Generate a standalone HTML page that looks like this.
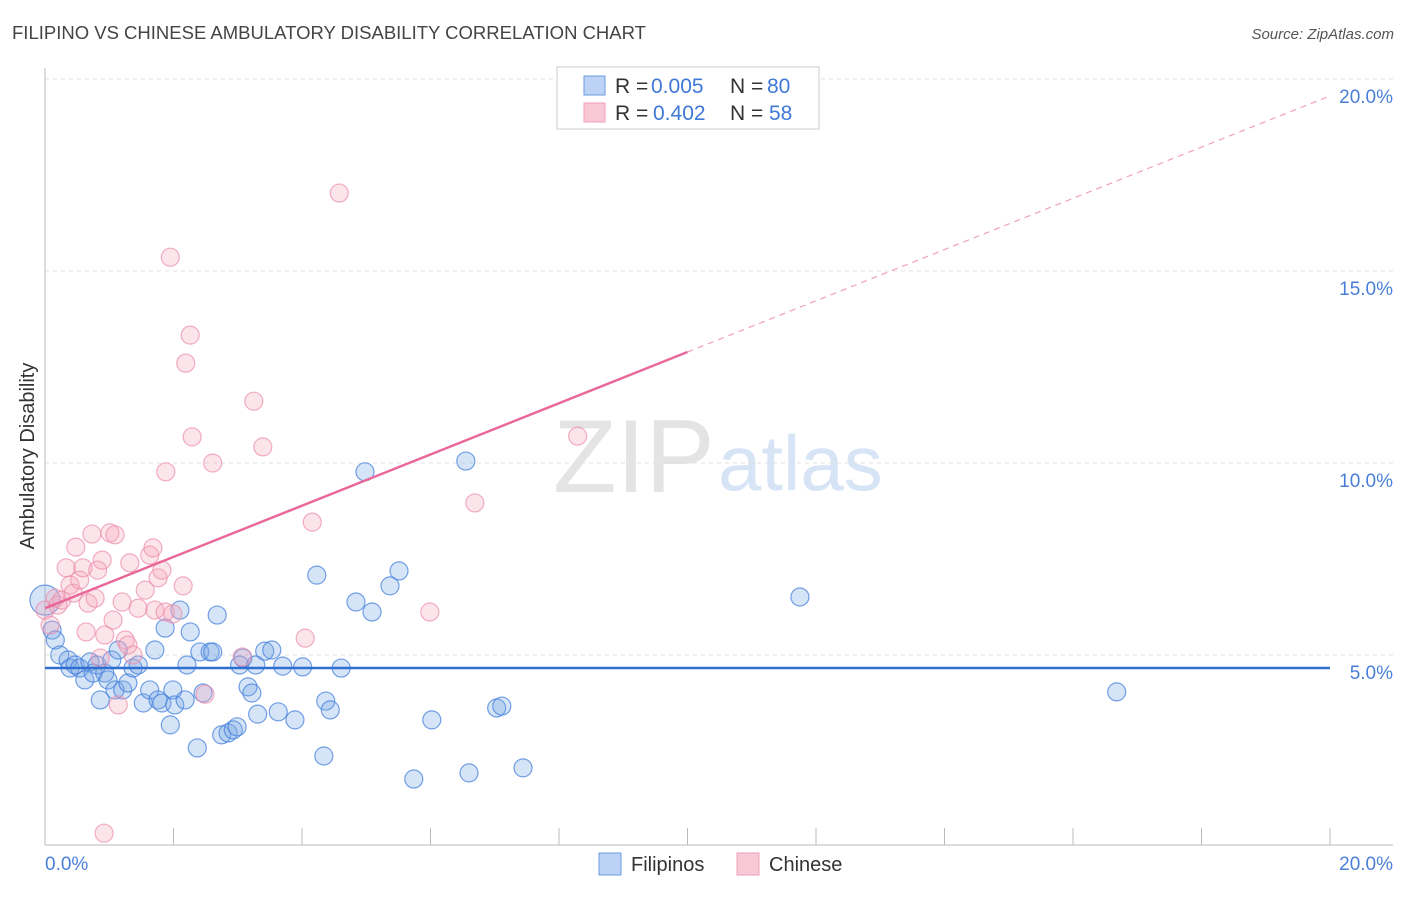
<!DOCTYPE html>
<html><head><meta charset="utf-8"><style>
body{margin:0;background:#fff;font-family:"Liberation Sans",sans-serif;}
svg text{font-family:"Liberation Sans",sans-serif;}
</style></head><body>
<svg id="chart" width="1406" height="892">
<text x="12" y="39" font-size="18.5" fill="#444">FILIPINO VS CHINESE AMBULATORY DISABILITY CORRELATION CHART</text>
<text x="1394" y="39" font-size="15" fill="#555" text-anchor="end" font-style="italic">Source: ZipAtlas.com</text>
<text x="553" y="492" font-size="104" fill="#e4e4e4" font-family="Liberation Serif">ZIP</text>
<text x="718" y="490" font-size="78" fill="#d6e4f6">atlas</text>
<g id="grid"></g>
<g id="marks"></g>
<text transform="translate(34,456) rotate(-90)" font-size="20" fill="#333" text-anchor="middle">Ambulatory Disability</text>
<text x="45" y="870" font-size="19" fill="#4a7fd8">0.0%</text>
<text x="1393" y="870" font-size="19" fill="#4a7fd8" text-anchor="end">20.0%</text>
<g>
<rect x="557" y="67" width="262" height="62" fill="#fff" stroke="#ccc"/>
<rect x="584" y="76" width="21" height="19" fill="#bcd3f5" stroke="#6b9be0"/>
<rect x="584" y="103" width="21" height="19" fill="#f8c8d6" stroke="#f0a0b8"/>
<text x="615" y="93" font-size="21" fill="#333">R =</text>
<text x="651" y="93" font-size="21" fill="#3f78d6">0.005</text>
<text x="730" y="93" font-size="21" fill="#333">N =</text>
<text x="767" y="93" font-size="21" fill="#3f78d6">80</text>
<text x="615" y="120" font-size="21" fill="#333">R =</text>
<text x="653" y="120" font-size="21" fill="#3f78d6">0.402</text>
<text x="730" y="120" font-size="21" fill="#333">N =</text>
<text x="769" y="120" font-size="21" fill="#3f78d6">58</text>
</g>
<g>
<rect x="599" y="853" width="22" height="22" fill="#bcd3f5" stroke="#6b9be0"/>
<text x="631" y="871" font-size="20" fill="#333">Filipinos</text>
<rect x="737" y="853" width="22" height="22" fill="#f8c8d6" stroke="#f0a0b8"/>
<text x="769" y="871" font-size="20" fill="#333">Chinese</text>
</g>
</svg>
<script>
const yTicks=[5,10,15,20];
const xTickCount=10;
const blueX=[0,0.11,0.16,0.23,0.36,0.39,0.47,0.54,0.62,0.70,0.75,0.81,0.86,0.93,0.98,1.04,1.09,1.14,1.21,1.29,1.37,1.45,1.53,1.63,1.71,1.76,1.82,1.87,1.95,1.99,2.02,2.10,2.18,2.21,2.26,2.37,2.41,2.46,2.57,2.61,2.68,2.75,2.85,2.93,2.99,3.03,3.08,3.16,3.22,3.28,3.31,3.42,3.53,3.63,3.70,3.89,4.01,4.23,4.34,4.37,4.44,4.61,4.84,4.98,5.09,5.37,5.51,5.74,6.02,6.55,6.60,7.03,7.11,7.44,11.75,16.68];
const blueY=[6.43,5.65,5.39,5.0,4.87,4.66,4.74,4.66,4.35,4.82,4.53,4.74,3.83,4.53,4.35,4.87,4.09,5.13,4.09,4.27,4.66,4.74,3.75,4.09,5.13,3.83,3.75,5.70,3.18,4.09,3.70,6.17,3.83,4.74,5.60,2.58,5.08,4.01,5.08,5.08,6.04,2.92,2.97,3.05,3.13,4.74,4.92,4.17,4.01,4.74,3.46,5.10,5.13,3.52,4.71,3.31,4.69,7.08,2.37,3.80,3.57,4.66,6.38,9.77,6.12,6.80,7.19,1.77,3.31,10.05,1.93,3.62,3.67,2.06,6.51,4.04];
const pinkX=[0,0.08,0.16,0.20,0.26,0.33,0.39,0.44,0.48,0.54,0.59,0.64,0.67,0.73,0.78,0.82,0.89,0.93,1.01,1.06,1.09,1.14,1.20,1.25,1.32,1.37,1.45,1.56,1.63,1.68,1.71,1.76,1.82,1.88,1.95,1.99,2.15,2.19,2.26,2.29,2.49,2.61,3.07,3.25,3.39,4.05,4.16,4.58,5.99,6.69,8.29,0.92,1.29,0.86,1.87];
const pinkY=[6.17,5.78,6.48,6.30,6.43,7.27,6.82,6.61,7.81,6.95,7.27,5.60,6.35,8.15,6.48,7.21,7.47,5.52,8.18,5.91,8.13,3.70,6.38,5.39,7.40,5.0,6.22,6.69,7.60,7.79,6.17,7.01,7.21,9.77,15.36,6.07,6.80,12.60,13.33,10.68,3.98,10.0,4.95,11.61,10.42,5.44,8.46,17.03,6.12,8.96,10.70,0.36,5.26,4.92,6.12];
const blueTrend=[4.66,4.66];
const pinkTrend=[6.22,12.89,19.56];
const X=v=>45+v/20*1285;
const Y=v=>847-v*38.4;
const NS='http://www.w3.org/2000/svg';
function mk(tag,attrs,parent){const e=document.createElementNS(NS,tag);for(const k in attrs)e.setAttribute(k,attrs[k]);parent.appendChild(e);return e;}
const grid=document.getElementById('grid'),marks=document.getElementById('marks');
yTicks.forEach(t=>{
 const l=mk('line',{x1:45,x2:1393,y1:Y(t),y2:Y(t),stroke:'#e2e2e2','stroke-dasharray':'4,4'},grid);
 
 
 const tx=mk('text',{x:1393,y:Y(t)+24,'font-size':19,fill:'#4a7fd8','text-anchor':'end'},grid);
 tx.textContent=t.toFixed(1)+'%';
 
 
});
const ax=mk('line',{x1:45,x2:45,y1:68,y2:845,stroke:'#bbb'},grid);


const bx=mk('line',{x1:45,x2:1393,y1:845,y2:845,stroke:'#bbb'},grid);


for(let i=1;i<=xTickCount;i++){
 const t=mk('line',{x1:X(i*2),x2:X(i*2),y1:828,y2:845,stroke:'#bbb'},grid);
 
 
}
blueX.forEach((v,i)=>{
 const c=mk('circle',{cx:X(v),cy:Y(blueY[i]),r:i==0?15:9,fill:'rgba(120,165,230,0.3)',stroke:'rgba(70,130,220,0.75)','stroke-width':1.2},marks);
 
 
});
pinkX.forEach((v,i)=>{
 const c=mk('circle',{cx:X(v),cy:Y(pinkY[i]),r:9,fill:'rgba(245,165,190,0.3)',stroke:'rgba(235,140,170,0.7)','stroke-width':1.2},marks);
 
 
});
const bl=mk('line',{x1:X(0),x2:X(20),y1:Y(blueTrend[0]),y2:Y(blueTrend[1]),stroke:'#2e6fd0','stroke-width':2.5},marks);


const pl=mk('line',{x1:X(0),x2:X(10),y1:Y(pinkTrend[0]),y2:Y(pinkTrend[1]),stroke:'#e8689a','stroke-width':2.5},marks);


const pd=mk('line',{x1:X(10),x2:X(20),y1:Y(pinkTrend[1]),y2:Y(pinkTrend[2]),stroke:'#f0a0b8','stroke-width':1.2,'stroke-dasharray':'6,5'},marks);


</script>
</body></html>
